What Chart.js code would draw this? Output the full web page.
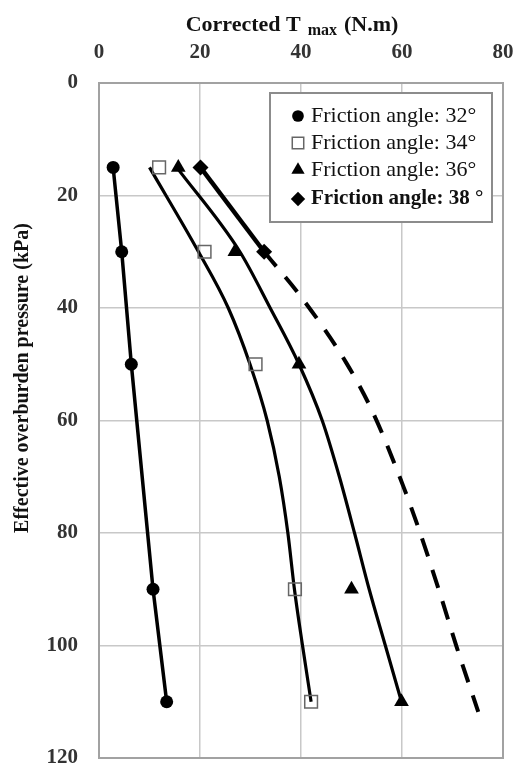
<!DOCTYPE html>
<html>
<head>
<meta charset="utf-8">
<script src="https://cdn.jsdelivr.net/npm/chart.js@4.4.1/dist/chart.umd.min.js"></script>
<style>
  html, body { margin: 0; padding: 0; background: #fff; }
  #wrap { position: relative; width: 514px; height: 769px; }
</style>
</head>
<body>
<div id="wrap"><canvas id="torqueChart"></canvas></div>
<script>
// --- mesures (pression effective en kPa, couple corrigé en N.m) ---
const pressure = [15, 30, 50, 90, 110];
const tmax32 = [2.8, 4.5, 6.4, 10.7, 13.4];
const tmax34 = [11.9, 20.9, 31.0, 38.8, 42.0];
const tmax36 = [15.7, 26.9, 39.6, 50.0, 59.9];
const pressure38 = [15, 30];
const tmax38 = [20.1, 32.7];

// --- courbes de tendance ---
const fitPressure = [15, 30, 40, 50, 60, 70, 80, 90, 100, 110];
const fit34 = [10.0, 19.7, 25.6, 29.9, 33.3, 35.7, 37.4, 38.7, 40.3, 42.0];
const fit36 = [15.4, 27.9, 33.9, 39.6, 44.2, 47.6, 50.6, 53.5, 56.7, 59.9];
const extPressure38 = [30, 38.6, 49.8, 58.5, 71.8, 80, 90.7, 100.2, 111.8];
const ext38 = [32.7, 40.5, 49.0, 54.2, 60.3, 63.6, 67.5, 70.8, 75.1];

// --- axes ---
const xTicks = [0, 20, 40, 60, 80];
const yTicks = [0, 20, 40, 60, 80, 100, 120];
const legendLabels = ['Friction angle: 32°', 'Friction angle: 34°', 'Friction angle: 36°', 'Friction angle: 38 °'];

const serif = '"Liberation Serif", "Times New Roman", serif';
const pts = (xs, ys) => xs.map((x, i) => ({ x: x, y: ys[i] }));

// cadre autour de la zone de tracé
const frame = {
  id: 'frame',
  beforeDatasetsDraw(chart) {
    const { ctx, chartArea: a } = chart;
    ctx.save();
    ctx.strokeStyle = '#a2a2a2';
    ctx.lineWidth = 2;
    ctx.strokeRect(a.left, a.top, a.right - a.left, a.bottom - a.top);
    ctx.restore();
  }
};

// légende encadrée dans le coin haut droit
const boxLegend = {
  id: 'boxLegend',
  afterDatasetsDraw(chart) {
    const { ctx, chartArea: a } = chart;
    const bx = a.left + 171, by = a.top + 10, bw = 222, bh = 129;
    ctx.save();
    ctx.fillStyle = '#fff';
    ctx.fillRect(bx, by, bw, bh);
    ctx.strokeStyle = '#8c8c8c';
    ctx.lineWidth = 2;
    ctx.strokeRect(bx, by, bw, bh);
    const items = chart.data.datasets.filter(d => d.inLegend);
    items.forEach((d, i) => {
      const y = by + 23 + i * 27 + (i === 3 ? 2 : 0);
      ctx.fillStyle = d.pointBackgroundColor;
      ctx.strokeStyle = d.pointBorderColor;
      ctx.lineWidth = d.pointBorderWidth;
      Chart.helpers.drawPoint(ctx, {
        pointStyle: d.pointStyle, rotation: 0,
        radius: d.pointRadius * 0.9, borderWidth: d.pointBorderWidth
      }, bx + 28, y);
      ctx.fillStyle = '#111';
      ctx.textBaseline = 'middle';
      ctx.textAlign = 'left';
      ctx.font = (i === 3 ? 'bold 21px ' : '22px ') + serif;
      ctx.fillText(d.label, bx + 41, y);
    });
    ctx.restore();
  }
};

// titres des axes (indice "max" sur T)
const titles = {
  id: 'titles',
  afterDraw(chart) {
    const { ctx, chartArea: a } = chart;
    ctx.save();
    ctx.fillStyle = '#111';
    ctx.textBaseline = 'alphabetic';
    const parts = [
      { t: 'Corrected T', f: 'bold 22px ' + serif, dy: 0 },
      { t: 'max', f: 'bold 16px ' + serif, dy: 4 },
      { t: '(N.m)', f: 'bold 22px ' + serif, dy: 0 }
    ];
    const gap = 7;
    let total = gap * 2;
    parts.forEach(p => { ctx.font = p.f; p.w = ctx.measureText(p.t).width; total += p.w; });
    let x = (a.left + a.right) / 2 - 9 - total / 2;
    parts.forEach(p => { ctx.font = p.f; ctx.fillText(p.t, x, 31 + p.dy); x += p.w + gap; });

    ctx.translate(23, 378);
    ctx.rotate(-Math.PI / 2);
    ctx.textAlign = 'center';
    ctx.textBaseline = 'middle';
    ctx.font = 'bold 20px ' + serif;
    ctx.fillText('Effective overburden pressure (kPa)', 0, 0);
    ctx.restore();
  }
};

const gridStyle = { color: '#c8c8c8', lineWidth: 1.5, drawTicks: false };
const tickFont = { family: serif, size: 21, weight: 'bold' };

new Chart(document.getElementById('torqueChart'), {
  type: 'scatter',
  data: {
    datasets: [
      { label: legendLabels[0], inLegend: true, data: pts(tmax32, pressure), showLine: true, tension: 0,
        borderColor: '#000', borderWidth: 3.5, pointStyle: 'circle', pointRadius: 6.5,
        pointBackgroundColor: '#000', pointBorderColor: '#000', pointBorderWidth: 0 },
      { label: legendLabels[1], inLegend: true, data: pts(tmax34, pressure), showLine: false,
        pointStyle: 'rect', pointRadius: 9, pointBackgroundColor: 'rgba(0,0,0,0)',
        pointBorderColor: '#666', pointBorderWidth: 1.5 },
      { label: legendLabels[2], inLegend: true, data: pts(tmax36, pressure), showLine: false,
        pointStyle: 'triangle', pointRadius: 8.5, pointBackgroundColor: '#000',
        pointBorderColor: '#000', pointBorderWidth: 0 },
      { label: legendLabels[3], inLegend: true, data: pts(tmax38, pressure38), showLine: true, tension: 0,
        borderColor: '#000', borderWidth: 4.5, pointStyle: 'rectRot', pointRadius: 8,
        pointBackgroundColor: '#000', pointBorderColor: '#000', pointBorderWidth: 0 },
      { label: 'tendance 34', data: pts(fit34, fitPressure), showLine: true, cubicInterpolationMode: 'monotone',
        borderColor: '#000', borderWidth: 3.2, pointRadius: 0 },
      { label: 'tendance 36', data: pts(fit36, fitPressure), showLine: true, cubicInterpolationMode: 'monotone',
        borderColor: '#000', borderWidth: 3.2, pointRadius: 0 },
      { label: 'extrapolation 38', data: pts(ext38, extPressure38), showLine: true, cubicInterpolationMode: 'monotone',
        borderColor: '#000', borderWidth: 4, borderDash: [19, 14], pointRadius: 0 }
    ]
  },
  options: {
    responsive: true,
    maintainAspectRatio: false,
    animation: false,
    layout: { padding: { top: 0, left: 0, right: 11, bottom: 11 } },
    plugins: { legend: { display: false }, tooltip: { enabled: false } },
    scales: {
      x: {
        type: 'linear', position: 'top', min: 0, max: 80,
        afterBuildTicks: ax => { ax.ticks = xTicks.map(v => ({ value: v })); },
        // hauteur fixe, les étiquettes débordent sur la marge
        afterFit: ax => { ax.height = 83; ax.paddingLeft = 0; ax.paddingRight = 0; },
        grid: gridStyle,
        border: { display: false },
        ticks: { padding: 18, color: '#333', font: tickFont }
      },
      y: {
        type: 'linear', position: 'left', reverse: true, min: 0, max: 120,
        afterBuildTicks: ax => { ax.ticks = yTicks.map(v => ({ value: v })); },
        afterFit: ax => { ax.width = 99; ax.paddingTop = 0; ax.paddingBottom = 0; },
        grid: gridStyle,
        border: { display: false },
        ticks: { padding: 21, color: '#333', font: tickFont }
      }
    }
  },
  plugins: [frame, boxLegend, titles]
});
</script>
</body>
</html>
